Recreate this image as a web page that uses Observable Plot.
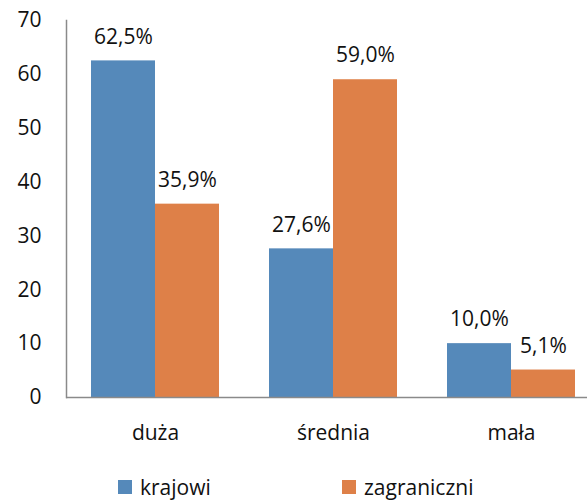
<!DOCTYPE html>
<html>
<head>
<meta charset="utf-8">
<script src="https://cdn.jsdelivr.net/npm/d3@7"></script>
<script src="https://cdn.jsdelivr.net/npm/@observablehq/plot@0.6"></script>
<style>
  html, body { margin: 0; padding: 0; background: #fff; }
  body { position: relative; width: 587px; height: 500px; overflow: hidden; font-family: "Open Sans", sans-serif; }
  #chart svg { display: block; }
  #legend { position: absolute; left: 0; top: 476px; width: 587px; height: 22px; font-size: 21px; line-height: 1; color: #111; }
  .item { position: absolute; top: 0; display: flex; align-items: center; height: 22px; line-height: 1; }
  .sw { width: 14px; height: 14px; margin-right: 8px; }
</style>
</head>
<body>
<div id="chart"></div>
<div id="legend"></div>
<script>
const categories = ["duża", "średnia", "mała"];
const series = ["krajowi", "zagraniczni"];
const krajowi = [62.5, 27.6, 10.0];
const zagraniczni = [35.9, 59.0, 5.1];
const yTicks = [0, 10, 20, 30, 40, 50, 60, 70];
const colors = ["#5589BA", "#DE8048"];

const values = { krajowi, zagraniczni };
const data = categories.flatMap((cat, i) =>
  series.map(s => ({ cat, series: s, value: values[s][i] }))
);

const fmt = v => v.toFixed(1).replace(".", ",") + "%";

const chart = Plot.plot({
  width: 587,
  height: 470,
  marginTop: 20,
  marginBottom: 73,
  marginLeft: 65,
  marginRight: -14,
  style: { fontFamily: "Open Sans", fontSize: "21px", color: "#111", background: "white" },
  fx: { domain: categories, padding: 0, label: null },
  x: { domain: series, paddingInner: 0, paddingOuter: 0.375, axis: null },
  y: { domain: [0, 70], axis: null },
  color: { domain: series, range: colors },
  marks: [
    Plot.barY(data, { fx: "cat", x: "series", y: "value", fill: "series", insetLeft: 0, insetRight: 0 }),
    Plot.text(data, { fx: "cat", x: "series", y: "value", text: d => fmt(d.value), dy: -24, fontSize: 21 }),
    Plot.axisY({ ticks: yTicks, tickSize: 0, tickPadding: 25, fontSize: 21, label: null, tickFormat: d => String(d) }),
    Plot.axisFx({ anchor: "bottom", tickSize: 0, tickPadding: 28, fontSize: 21, label: null }),
    Plot.ruleY([0], { stroke: "#8a8a8a", strokeWidth: 1.5 }),
    Plot.frame({ anchor: "left", facetAnchor: "left", stroke: "#8a8a8a", strokeWidth: 1.5 })
  ]
});
document.getElementById("chart").append(chart);

const legend = document.getElementById("legend");
const lefts = [118, 342];
series.forEach((s, i) => {
  const item = document.createElement("div");
  item.className = "item";
  item.style.left = lefts[i] + "px";
  const sw = document.createElement("span");
  sw.className = "sw";
  sw.style.background = colors[i];
  const label = document.createElement("span");
  label.textContent = s;
  item.append(sw, label);
  legend.append(item);
});
</script>
</body>
</html>
